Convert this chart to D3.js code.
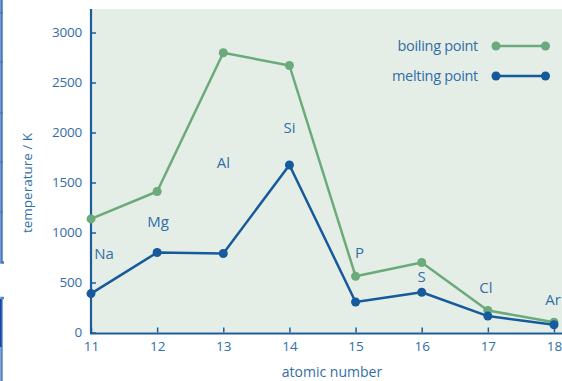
<!DOCTYPE html>
<html>
<head>
<meta charset="utf-8">
<script src="https://cdn.jsdelivr.net/npm/d3@7"></script>
<style>
html,body{margin:0;padding:0;background:#fff;}
svg{display:block;}
text{font-family:"Open Sans","Noto Sans",sans-serif;}
</style>
</head>
<body>
<svg id="chart" width="562" height="381"></svg>
<script>
// ---- data ----
const atomicNumbers = [11, 12, 13, 14, 15, 16, 17, 18];
const elements = ["Na", "Mg", "Al", "Si", "P", "S", "Cl", "Ar"];
const boilingPoint = [1136, 1410, 2797, 2670, 563, 700, 221, 102];
const meltingPoint = [389, 800, 790, 1675, 305, 402, 164, 77];
const yTicks = [0, 500, 1000, 1500, 2000, 2500, 3000];
const seriesNames = ["boiling point", "melting point"];

// ---- layout ----
const W = 562, H = 381;
const mLeft = 91, mRight = 554, mTop = 9, mBottom = 332.5;
const cBoil = "#6aaa7b", cMelt = "#165a9c", cAxis = "#1d5c9c", cText = "#316ea6", bg = "#e5eee6";

const svg = d3.select("#chart");
const x = d3.scaleLinear().domain([11, 18]).range([mLeft, mRight]);
const y = d3.scaleLinear().domain([0, 3000]).range([mBottom, 32.5]);

// left decorative page edges
const deco = svg.append("g").attr("fill", "none");
deco.append("path").attr("d", "M1.5,0V262.5H4").attr("stroke", "#4a78c0").attr("stroke-width", 2.5);
[13, 62, 113, 162, 212].forEach(t => deco.append("line").attr("x1", 0).attr("x2", 3).attr("y1", t).attr("y2", t).attr("stroke", "#4a78c0").attr("stroke-width", 1.5));
deco.append("path").attr("d", "M4,298H1.5V381").attr("stroke", "#5a86c6").attr("stroke-width", 2.5);
deco.append("line").attr("x1", 0.5).attr("x2", 0.5).attr("y1", 299).attr("y2", 347).attr("stroke", "#1443a8").attr("stroke-width", 2);

// plot background
svg.append("rect").attr("x", mLeft).attr("y", mTop).attr("width", W - mLeft).attr("height", mBottom - mTop).attr("fill", bg);

// axes
const yAxis = d3.axisLeft(y).tickValues(yTicks).tickFormat(d3.format("d")).tickSize(-5).tickPadding(9);
const gy = svg.append("g").attr("transform", `translate(${mLeft},0)`).call(yAxis);
gy.select(".domain").remove();
gy.selectAll(".tick line").attr("stroke", cAxis).attr("stroke-width", 1.5);
gy.selectAll(".tick text").attr("fill", cText).attr("font-size", 13.5).attr("font-family", "'Open Sans',sans-serif").attr("x", -9).attr("letter-spacing", -0.2);

const xAxis = d3.axisBottom(x).tickValues(atomicNumbers).tickFormat(d3.format("d")).tickSize(-5).tickPadding(10);
const gx = svg.append("g").attr("transform", `translate(0,${mBottom})`).call(xAxis);
gx.select(".domain").remove();
gx.selectAll(".tick line").attr("stroke", cAxis).attr("stroke-width", 1.5);
gx.selectAll(".tick text").attr("fill", cText).attr("font-size", 13.5).attr("font-family", "'Open Sans',sans-serif").attr("y", 9);

svg.append("line").attr("x1", mLeft).attr("x2", mLeft).attr("y1", mTop).attr("y2", mBottom + 1).attr("stroke", cAxis).attr("stroke-width", 2.2);
svg.append("line").attr("x1", mLeft - 1).attr("x2", W).attr("y1", mBottom + 1).attr("y2", mBottom + 1).attr("stroke", cAxis).attr("stroke-width", 2.2);

// axis titles
svg.append("text").attr("transform", `translate(32,183) rotate(-90)`).attr("text-anchor", "middle")
  .attr("fill", cText).attr("font-size", 13.5).text("temperature / K");
svg.append("text").attr("x", 332).attr("y", 377).attr("text-anchor", "middle")
  .attr("fill", cText).attr("font-size", 14).text("atomic number");

// lines
const line = vals => d3.line().x((d, i) => x(atomicNumbers[i])).y(d => y(d))(vals);
[[boilingPoint, cBoil], [meltingPoint, cMelt]].forEach(([vals, c]) => {
  svg.append("path").attr("d", line(vals)).attr("fill", "none").attr("stroke", c).attr("stroke-width", 2.5).attr("stroke-linejoin", "round");
  svg.append("g").selectAll("circle").data(vals).join("circle")
    .attr("cx", (d, i) => x(atomicNumbers[i])).attr("cy", d => y(d)).attr("r", 4.5).attr("fill", c);
});

// element labels (layout offsets)
const labelDX = [13, 1, 0, 0, 4, 0, -2, -1];
const labelDY = [-35, -26, -86, -32, -18, -10, -17, -17];
const labelBase = [meltingPoint[0], meltingPoint[1], meltingPoint[2], meltingPoint[3], boilingPoint[4], meltingPoint[5], boilingPoint[6], boilingPoint[7]];
svg.append("g").selectAll("text").data(elements).join("text")
  .attr("x", (d, i) => x(atomicNumbers[i]) + labelDX[i])
  .attr("y", (d, i) => y(labelBase[i]) + labelDY[i])
  .attr("text-anchor", "middle").attr("fill", cText).attr("font-size", 15).text(d => d);

// legend
const legend = svg.append("g");
[[seriesNames[0], cBoil, 46], [seriesNames[1], cMelt, 76]].forEach(([name, c, ly]) => {
  legend.append("text").attr("x", 478).attr("y", ly + 5).attr("text-anchor", "end").attr("fill", cText).attr("font-size", 14.5).attr("letter-spacing", -0.3).text(name);
  legend.append("line").attr("x1", 496).attr("x2", 545.5).attr("y1", ly).attr("y2", ly).attr("stroke", c).attr("stroke-width", 2.5);
  legend.append("circle").attr("cx", 496).attr("cy", ly).attr("r", 4.5).attr("fill", c);
  legend.append("circle").attr("cx", 545.5).attr("cy", ly).attr("r", 4.5).attr("fill", c);
});
</script>
</body>
</html>
